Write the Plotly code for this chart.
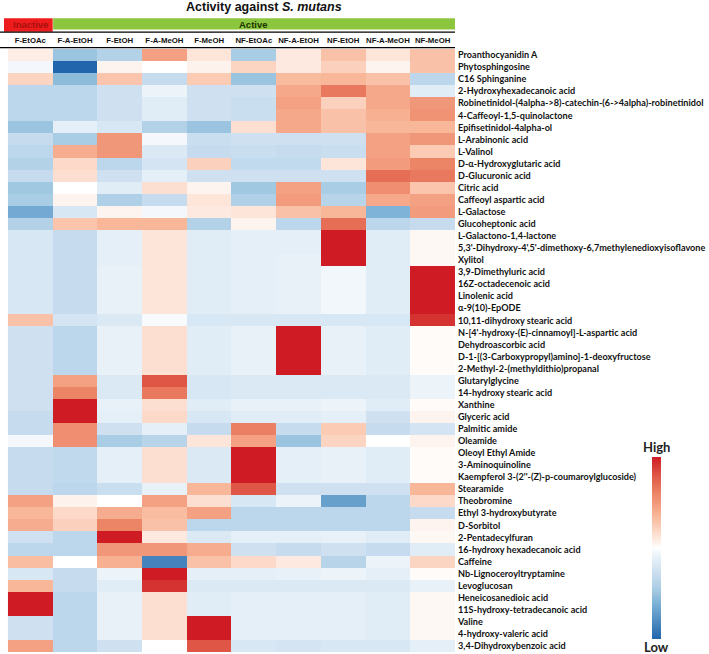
import plotly.graph_objects as go

# sample groups and extracts (columns)
groups = ["Inactive"] + ["Active"] * 9
extracts = ["F-EtOAc", "F-A-EtOH", "F-EtOH", "F-A-MeOH", "F-MeOH",
            "NF-EtOAc", "NF-A-EtOH", "NF-EtOH", "NF-A-MeOH", "NF-MeOH"]

compounds = [
    "Proanthocyanidin A", "Phytosphingosine", "C16 Sphinganine",
    "2-Hydroxyhexadecanoic acid",
    "Robinetinidol-(4alpha->8)-catechin-(6->4alpha)-robinetinidol",
    "4-Caffeoyl-1,5-quinolactone", "Epifisetinidol-4alpha-ol",
    "L-Arabinonic acid", "L-Valinol", "D-α-Hydroxyglutaric acid",
    "D-Glucuronic acid", "Citric acid", "Caffeoyl aspartic acid",
    "L-Galactose", "Glucoheptonic acid", "L-Galactono-1,4-lactone",
    "5,3'-Dihydroxy-4',5'-dimethoxy-6,7methylenedioxyisoflavone", "Xylitol",
    "3,9-Dimethyluric acid", "16Z-octadecenoic acid", "Linolenic acid",
    "α-9(10)-EpODE", "10,11-dihydroxy stearic acid",
    "N-[4'-hydroxy-(E)-cinnamoyl]-L-aspartic acid", "Dehydroascorbic acid",
    "D-1-[(3-Carboxypropyl)amino]-1-deoxyfructose",
    "2-Methyl-2-(methyldithio)propanal", "Glutarylglycine",
    "14-hydroxy stearic acid", "Xanthine", "Glyceric acid", "Palmitic amide",
    "Oleamide", "Oleoyl Ethyl Amide", "3-Aminoquinoline",
    "Kaempferol 3-(2''-(Z)-p-coumaroylglucoside)", "Stearamide",
    "Theobromine", "Ethyl 3-hydroxybutyrate", "D-Sorbitol",
    "2-Pentadecylfuran", "16-hydroxy hexadecanoic acid", "Caffeine",
    "Nb-Lignoceroyltryptamine", "Levoglucosan", "Heneicosanedioic acid",
    "11S-hydroxy-tetradecanoic acid", "Valine", "4-hydroxy-valeric acid",
    "3,4-Dihydroxybenzoic acid",
]

# relative abundance (scaled, low = -1, high = 1), one list per extract
f_etoac = [0.08, -0.05, 0.2, -0.35, -0.35, -0.35, -0.5, -0.3, -0.35, -0.4,
           -0.3, -0.48, -0.45, -0.65, -0.4, -0.2, -0.2, -0.2, -0.2, -0.2,
           -0.2, -0.2, 0.3, -0.25, -0.25, -0.25, -0.25, -0.25, -0.25, -0.25,
           -0.3, -0.3, -0.05, -0.3, -0.3, -0.3, -0.3, 0.45, 0.35, 0.4,
           -0.25, -0.35, 0.32, -0.2, 0.35, 1.0, 1.0, -0.25, -0.25, 0.45]
f_a_etoh = [-0.5, -1.0, -0.55, -0.35, -0.35, -0.35, -0.12, -0.45, 0.4, 0.18,
            0.15, 0.0, 0.05, -0.2, 0.28, -0.3, -0.3, -0.3, -0.3, -0.3,
            -0.3, -0.3, -0.22, -0.35, -0.35, -0.35, -0.35, 0.45, 0.6, 1.0,
            1.0, 0.55, 0.55, -0.33, -0.33, -0.33, -0.35, 0.06, 0.18, 0.22,
            -0.35, -0.35, 0.0, -0.3, -0.3, -0.35, -0.35, -0.35, -0.35, -0.35]
f_etoh = [-0.4, 0.05, 0.28, -0.25, -0.25, -0.25, -0.2, 0.5, 0.5, -0.35,
          -0.25, -0.15, -0.42, 0.05, 0.35, -0.12, -0.12, -0.12, -0.1, -0.1,
          -0.1, -0.1, -0.18, -0.1, -0.1, -0.1, -0.1, -0.18, -0.18, -0.1,
          -0.12, -0.25, -0.45, -0.12, -0.12, -0.12, -0.28, 0.0, 0.4, 0.6,
          1.0, 0.5, 0.38, -0.08, -0.15, -0.1, -0.1, -0.1, -0.1, -0.25]
f_a_meoh = [0.45, 0.0, -0.3, -0.08, -0.15, -0.15, -0.4, -0.05, -0.18, -0.22,
            -0.12, 0.15, -0.3, -0.05, 0.35, 0.12, 0.12, 0.12, 0.12, 0.12,
            0.12, 0.12, -0.03, 0.15, 0.15, 0.15, 0.15, 0.8, 0.65, 0.15,
            0.18, -0.12, -0.38, 0.15, 0.15, 0.15, -0.1, 0.45, 0.32, 0.3,
            0.1, 0.5, -0.85, 1.0, 0.92, 0.15, 0.15, 0.15, 0.15, 0.0]
f_meoh = [0.12, 0.06, 0.25, -0.25, -0.25, -0.25, -0.5, -0.28, -0.3, 0.22,
          -0.25, 0.05, 0.12, 0.1, -0.4, -0.15, -0.15, -0.15, -0.15, -0.15,
          -0.15, -0.15, -0.2, -0.15, -0.15, -0.15, -0.15, -0.2, -0.2, -0.15,
          -0.2, -0.3, 0.12, -0.18, -0.18, -0.18, 0.35, 0.15, 0.45, -0.35,
          -0.18, 0.4, 0.3, -0.12, -0.18, -0.15, -0.15, 1.0, 1.0, 0.8]
nf_etoac = [-0.45, 0.2, -0.5, -0.25, -0.28, -0.28, 0.15, -0.25, -0.28, -0.32,
            -0.25, -0.48, -0.42, 0.12, 0.05, -0.12, -0.12, -0.12, -0.12, -0.12,
            -0.12, -0.12, -0.2, -0.1, -0.1, -0.1, -0.1, -0.18, -0.18, -0.1,
            -0.15, 0.62, 0.45, 1.0, 1.0, 1.0, 0.8, -0.2, -0.35, -0.35,
            -0.12, -0.25, 0.18, -0.12, -0.18, -0.12, -0.12, -0.12, -0.12, -0.2]
nf_a_etoh = [0.1, 0.1, 0.33, 0.42, 0.45, 0.42, 0.42, -0.25, -0.3, -0.32,
             -0.25, 0.45, 0.48, 0.3, -0.35, -0.12, -0.12, -0.1, -0.1, -0.1,
             -0.1, -0.1, -0.2, 1.0, 1.0, 1.0, 1.0, -0.18, -0.18, -0.1,
             -0.15, -0.3, -0.5, -0.12, -0.12, -0.12, -0.25, -0.08, -0.35, -0.35,
             -0.12, -0.3, 0.1, -0.1, -0.18, -0.12, -0.12, -0.12, -0.12, -0.22]
nf_etoh = [0.3, 0.22, 0.35, 0.65, 0.22, 0.3, 0.3, -0.25, -0.28, 0.12,
           -0.25, -0.45, -0.38, 0.35, 0.7, 1.0, 1.0, 1.0, -0.06, -0.06,
           -0.06, -0.06, -0.2, -0.1, -0.1, -0.1, -0.1, -0.18, -0.18, -0.08,
           -0.12, 0.25, 0.2, -0.1, -0.1, -0.1, -0.25, -0.7, -0.35, -0.35,
           -0.1, -0.25, -0.38, -0.08, -0.18, -0.12, -0.12, -0.12, -0.12, -0.2]
nf_a_meoh = [0.12, 0.05, 0.3, 0.42, 0.42, 0.38, 0.35, 0.45, 0.45, 0.48,
             0.7, 0.55, 0.42, -0.6, -0.35, -0.15, -0.15, -0.15, -0.15, -0.15,
             -0.15, -0.15, -0.2, -0.15, -0.15, -0.15, -0.15, -0.18, -0.18, -0.15,
             -0.25, -0.3, 0.0, -0.15, -0.15, -0.15, -0.25, -0.35, -0.35, -0.35,
             -0.15, -0.3, -0.08, -0.12, -0.18, -0.15, -0.15, -0.15, -0.15, -0.2]
nf_meoh = [0.3, 0.3, -0.35, -0.15, 0.5, 0.52, 0.35, 0.5, 0.25, 0.6,
           0.65, 0.28, 0.45, 0.48, -0.3, 0.03, 0.03, 0.03, 1.0, 1.0,
           1.0, 1.0, 0.92, 0.02, 0.02, 0.02, 0.02, -0.08, -0.08, 0.02,
           0.05, -0.22, 0.05, 0.02, 0.02, 0.02, 0.35, 0.18, -0.3, 0.05,
           0.03, -0.15, 0.2, 0.02, -0.1, 0.03, 0.03, 0.03, 0.03, -0.12]

columns = [f_etoac, f_a_etoh, f_etoh, f_a_meoh, f_meoh,
           nf_etoac, nf_a_etoh, nf_etoh, nf_a_meoh, nf_meoh]
z = [list(row) for row in zip(*columns)]

colorscale = [
    [0.0, "#2166ac"], [0.2, "#7fb3d7"], [0.275, "#a9cde4"], [0.35, "#c6dcee"],
    [0.45, "#e8f1f8"], [0.5, "#ffffff"], [0.55, "#fde9df"], [0.6, "#fcd5c2"],
    [0.675, "#f8b799"], [0.725, "#f4a183"], [0.8, "#ec8466"], [0.9, "#df5646"],
    [1.0, "#cf1b24"],
]

W, H = 709, 654
M_L, M_R, M_T, M_B = 4, 254, 49, 2
PLOT_H = H - M_T - M_B
PLOT_W = W - M_L - M_R


def py(y_px):
    # pixel row of the page -> paper y
    return (H - M_B - y_px) / PLOT_H


def px(x_px):
    return (x_px - M_L) / PLOT_W


fig = go.Figure(
    go.Heatmap(
        z=z,
        x=extracts,
        y=compounds,
        zmin=-1,
        zmax=1,
        colorscale=colorscale,
        colorbar=dict(
            x=px(652), xanchor="left", xpad=0,
            y=py(548), yanchor="middle", ypad=0,
            len=182, lenmode="pixels", thickness=9,
            outlinewidth=0, ticks="", showticklabels=False,
        ),
        hovertemplate="%{y}<br>%{x}: %{z}<extra></extra>",
    )
)

# header boxes: Inactive / Active
spans = {}
for i, g in enumerate(groups):
    lo, hi = spans.get(g, (i, i))
    spans[g] = (min(lo, i), max(hi, i))
header_style = {
    "Inactive": dict(fill="#ee1c1c", text="#a8100f", y0=31.7),
    "Active": dict(fill="#8cc63f", text="#1d3300", y0=29.5),
}
for g, (lo, hi) in spans.items():
    st = header_style[g]
    x0 = lo - 0.5 - (4 / 45 if lo == 0 else -0.01)
    x1 = hi + 0.5
    fig.add_shape(type="rect", xref="x", yref="paper", x0=x0, x1=x1,
                  y0=py(st["y0"]), y1=py(18.3), fillcolor=st["fill"],
                  line_width=0, layer="above")
    fig.add_annotation(x=(lo + hi) / 2, xref="x", y=py(24.5), yref="paper",
                       text=g, showarrow=False,
                       xanchor="center", yanchor="middle",
                       font=dict(family="Liberation Sans", size=9.5,
                                 color=st["text"], weight="bold"))

for y_line in [32.2, 47.6]:
    fig.add_shape(type="line", xref="paper", yref="paper",
                  x0=px(0), x1=1, y0=py(y_line), y1=py(y_line),
                  line=dict(color="black", width=1.3))

fig.add_annotation(
    x=px(264), y=py(7), xref="paper", yref="paper", showarrow=False,
    xanchor="center", yanchor="middle",
    text="<b>Activity against <i>S. mutans</i></b>",
    font=dict(family="Liberation Sans", size=12.5, color="#111111"),
)
fig.add_annotation(x=px(656), y=py(447), xref="paper", yref="paper",
                   text="High", showarrow=False,
                   xanchor="center", yanchor="middle",
                   font=dict(family="Lato", size=13, color="#222222", weight="bold"))
fig.add_annotation(x=px(656), y=py(647), xref="paper", yref="paper",
                   text="Low", showarrow=False,
                   xanchor="center", yanchor="middle",
                   font=dict(family="Lato", size=13, color="#222222", weight="bold"))

fig.update_xaxes(side="top", ticks="", showgrid=False, zeroline=False,
                 tickangle=0, automargin=False, ticklabelstandoff=3,
                 tickfont=dict(family="Liberation Sans", size=7.8,
                               color="#111111", weight="bold"))
fig.update_yaxes(side="right", autorange="reversed", ticks="", showgrid=False,
                 zeroline=False, ticklabelstandoff=2, automargin=False,
                 tickfont=dict(family="Lato", size=9.1, color="#111111",
                               weight="bold"))
fig.update_layout(
    width=W,
    height=H,
    margin=dict(l=M_L, r=M_R, t=M_T, b=M_B, autoexpand=False),
    plot_bgcolor="white",
    paper_bgcolor="white",
    showlegend=False,
)
# drop the browser's default page margin so the figure sits at the corner
fig.write_html("out.html", config={"displayModeBar": False},
               post_script="document.body.style.margin = '0';")
